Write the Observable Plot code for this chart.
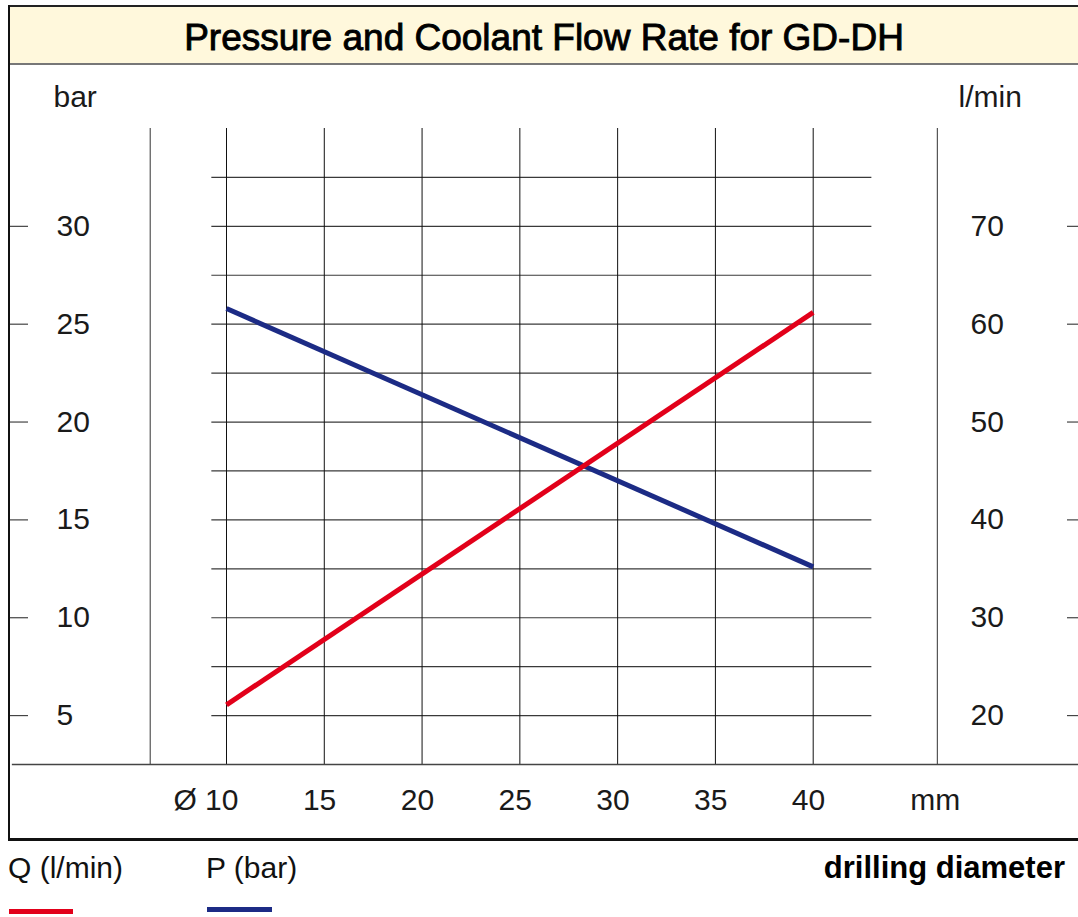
<!DOCTYPE html>
<html>
<head>
<meta charset="utf-8">
<script src="https://cdn.jsdelivr.net/npm/d3@7"></script>
<script src="https://cdn.jsdelivr.net/npm/@observablehq/plot@0.6"></script>
<style>
  html, body { margin: 0; padding: 0; background: #fff; overflow: hidden; }
  body { font-family: "Liberation Sans", Arial, Helvetica, sans-serif; color: #111; }
  #wrap { position: relative; width: 1078px; height: 917px; overflow: hidden; }
  .abs { position: absolute; }
  #title { left: 10px; top: 6.5px; width: 1068px; height: 57px; background: #fff8dc; }
  #titleText { left: 10px; width: 1068px; top: 18.7px; font-size: 37px; line-height: 37px; text-align: center; color: #000; -webkit-text-stroke: 0.9px #000; white-space: nowrap; }
  .lg { font-size: 30px; line-height: 30px; white-space: nowrap; color: #111; }
  #chart { left: 0; top: 65px; }
</style>
</head>
<body>
<div id="wrap">
  <div class="abs" id="title"></div>
  <div class="abs" style="left:10px;top:63.3px;width:1068px;height:2px;background:#777"></div>
  <div class="abs" style="left:8px;top:4.5px;width:1070px;height:2px;background:#222"></div>
  <div class="abs" style="left:7.8px;top:4.5px;width:2.5px;height:836px;background:#111"></div>
  <div class="abs" style="left:8px;top:838.3px;width:1070px;height:2.3px;background:#111"></div>
  <div class="abs" id="titleText"></div>
  <div class="abs" id="chart"></div>
  <div class="abs lg" id="lgQ" style="left:8px;top:853.3px"></div>
  <div class="abs" id="swQ" style="left:9px;top:908.5px;width:64px;height:5px"></div>
  <div class="abs lg" id="lgP" style="left:206px;top:853.3px"></div>
  <div class="abs" id="swP" style="left:207px;top:906.5px;width:65px;height:5px"></div>
  <div class="abs lg" id="xTitle" style="right:13px;top:853px;font-size:31px;font-weight:bold;color:#000"></div>
</div>
<script>
// ---- data ----
const titleText = "Pressure and Coolant Flow Rate for GD-DH";
const diameters = [10, 40];            // mm
const pressureBar = [25.8, 12.6];      // P (bar)
const flowLpm = [21.1, 61.2];          // Q (l/min)
const xTicks = [10, 15, 20, 25, 30, 35, 40];
const barTicks = [5, 10, 15, 20, 25, 30];
const flowTicks = [20, 30, 40, 50, 60, 70];
const barGrid = [5, 7.5, 10, 12.5, 15, 17.5, 20, 22.5, 25, 27.5, 30, 32.5];
const frameLinesMM = [6.1, 46.35];
const seriesNames = ["Q (l/min)", "P (bar)"];
const seriesColors = ["#e2001a", "#1c2b85"];
const xAxisTitle = "drilling diameter";
const leftUnit = "bar", rightUnit = "l/min", xUnit = "mm";

// l/min shares the bar axis: 70 l/min ↔ 30 bar, 20 l/min ↔ 5 bar
const toBar = q => (q - 10) / 2;

const pData = diameters.map((d, i) => ({d, v: pressureBar[i]}));
const qData = diameters.map((d, i) => ({d, v: toBar(flowLpm[i])}));

document.getElementById("titleText").textContent = titleText;
document.getElementById("lgQ").textContent = seriesNames[0];
document.getElementById("lgP").textContent = seriesNames[1];
document.getElementById("swQ").style.background = seriesColors[0];
document.getElementById("swP").style.background = seriesColors[1];
document.getElementById("xTitle").textContent = xAxisTitle;

const FONT = "'Liberation Sans', Arial, Helvetica, sans-serif";

const chart = Plot.plot({
  width: 1078,
  height: 776,
  marginLeft: 226,
  marginRight: 265.3,
  marginTop: 63,
  marginBottom: 77,
  x: {domain: [10, 40], axis: null, label: null},
  y: {domain: [2.5, 35], axis: null, label: null},
  style: {fontFamily: FONT, fontSize: "30px", color: "#111", background: "transparent", overflow: "visible"},
  marks: [
    Plot.ruleY(barGrid, {x1: 9.25, x2: 43, stroke: "#3a3a3a", strokeWidth: 1.2}),
    Plot.ruleX(xTicks, {y1: 2.5, y2: 35, stroke: "#111", strokeWidth: 1}),
    Plot.ruleX(frameLinesMM, {y1: 2.5, y2: 35, stroke: "#555", strokeWidth: 1.2}),
    Plot.ruleY([2.5], {x1: -0.95, x2: 54, stroke: "#444", strokeWidth: 1.5}),
    // left ticks + labels (bar)
    Plot.axisY(barTicks, {anchor: "left", tickSize: 18, dx: -198, fill: "none", stroke: "#444", strokeWidth: 1.2, label: null}),
    Plot.axisY(barTicks, {anchor: "left", tickSize: 0, tickPadding: 3, dx: -167, textAnchor: "start", fontSize: 30, fill: "#1a1a1a", label: null, fontFamily: FONT}),
    // right ticks + labels (l/min)
    Plot.axisY(flowTicks.map(toBar), {anchor: "right", tickSize: 12, dx: 253.3, fill: "none", stroke: "#444", strokeWidth: 1.2, label: null}),
    Plot.axisY(flowTicks.map(toBar), {anchor: "right", tickSize: 0, tickPadding: 3, dx: 154.3, textAnchor: "start", fontSize: 30, fill: "#1a1a1a", label: null, fontFamily: FONT, tickFormat: d => String(Math.round(d * 2 + 10))}),
    // x labels
    Plot.axisX(xTicks, {anchor: "bottom", tickSize: 0, tickPadding: 3, textAnchor: "end", dx: 12, dy: 33, lineAnchor: "middle", fontSize: 30, fill: "#1a1a1a", label: null, fontFamily: FONT, tickFormat: d => d === 10 ? "Ø 10" : String(d)}),
    Plot.text([xUnit], {text: d => d, frameAnchor: "bottom-right", dx: 122, dy: 36, textAnchor: "middle", lineAnchor: "middle", fontSize: 30, fill: "#1a1a1a", fontFamily: FONT}),
    Plot.text([leftUnit], {text: d => d, frameAnchor: "top-left", dx: -173, dy: -31, textAnchor: "start", lineAnchor: "middle", fontSize: 30, fill: "#1a1a1a", fontFamily: FONT}),
    Plot.text([rightUnit], {text: d => d, frameAnchor: "top-right", dx: 145.3, dy: -31, textAnchor: "start", lineAnchor: "middle", fontSize: 30, fill: "#1a1a1a", fontFamily: FONT}),
    // series
    Plot.line(pData, {x: "d", y: "v", stroke: seriesColors[1], strokeWidth: 5, strokeLinecap: "butt"}),
    Plot.line(qData, {x: "d", y: "v", stroke: seriesColors[0], strokeWidth: 5, strokeLinecap: "butt"})
  ]
});
document.getElementById("chart").appendChild(chart);
</script>
</body>
</html>
